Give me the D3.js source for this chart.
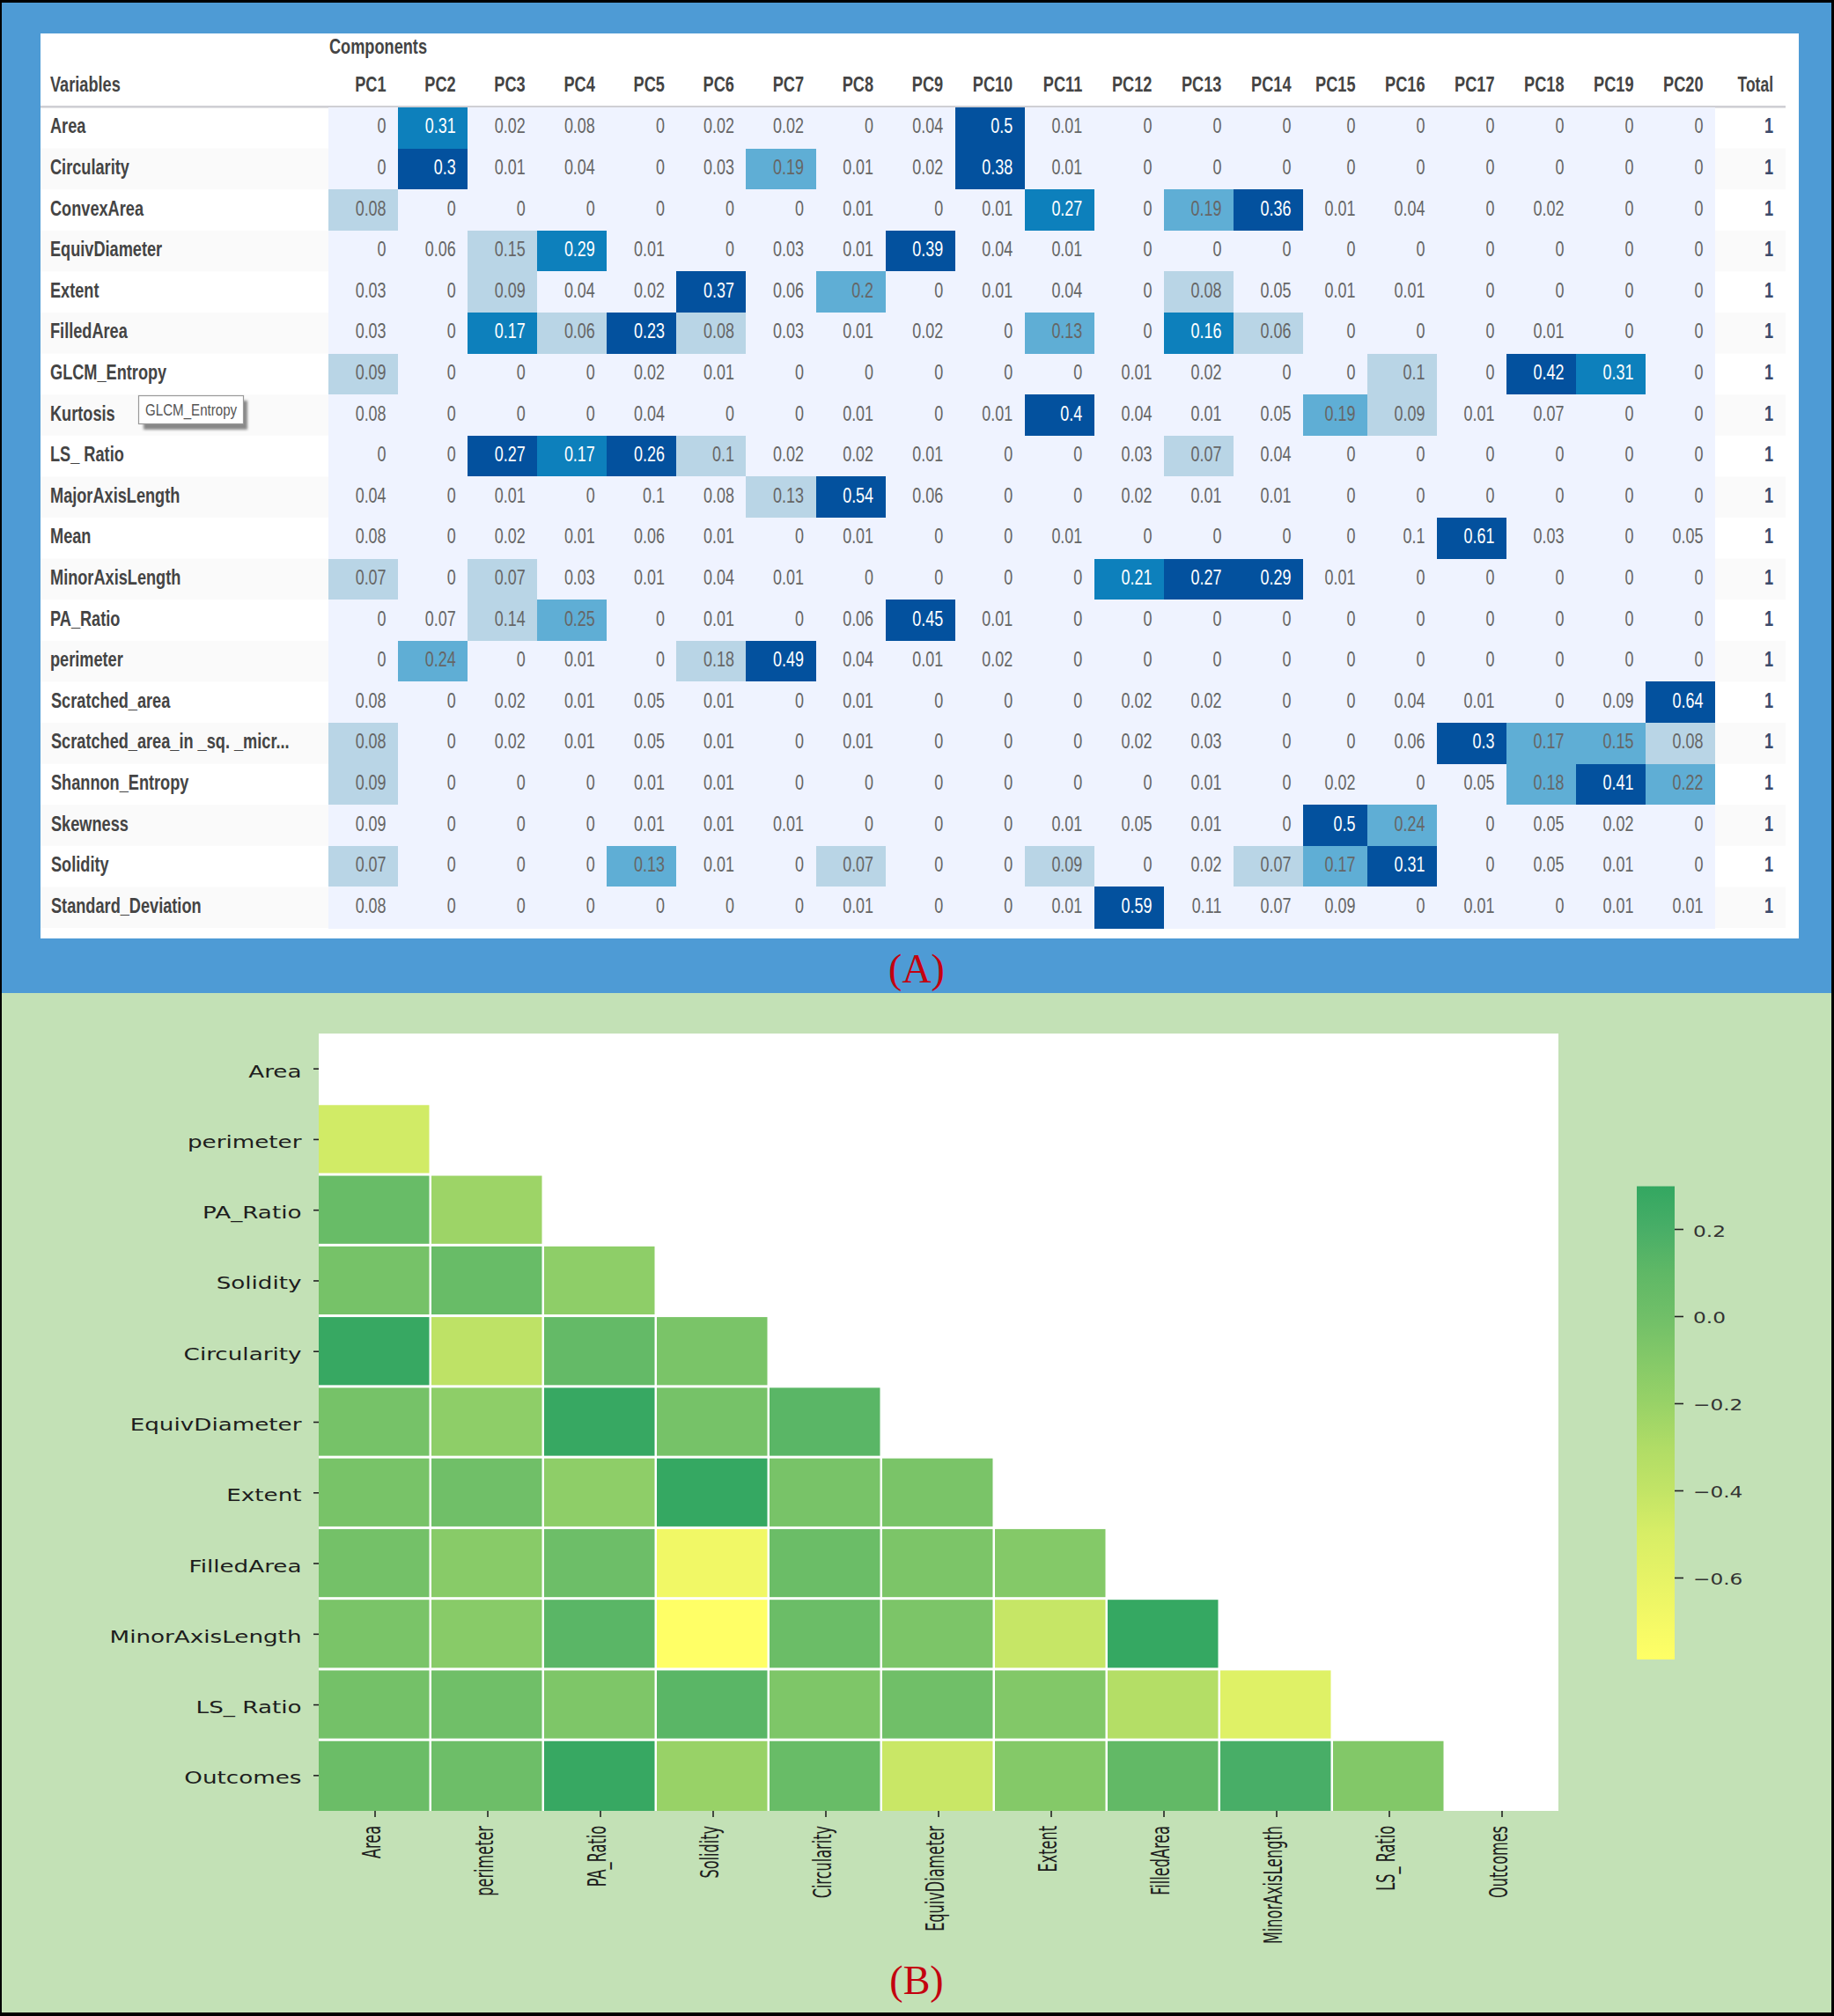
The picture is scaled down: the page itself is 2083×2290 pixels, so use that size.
<!DOCTYPE html>
<html><head><meta charset="utf-8">
<script src="https://cdn.jsdelivr.net/npm/d3@7"></script>
<style>html,body{margin:0;padding:0;background:#000}svg{display:block}</style>
</head><body><svg id="c" width="2083" height="2290"></svg>
<script>
const components=["PC1","PC2","PC3","PC4","PC5","PC6","PC7","PC8","PC9","PC10","PC11","PC12","PC13","PC14","PC15","PC16","PC17","PC18","PC19","PC20"];
const variables=["Area","Circularity","ConvexArea","EquivDiameter","Extent","FilledArea","GLCM_Entropy","Kurtosis","LS_ Ratio","MajorAxisLength","Mean","MinorAxisLength","PA_Ratio","perimeter","Scratched_area","Scratched_area_in _sq. _micr...","Shannon_Entropy","Skewness","Solidity","Standard_Deviation"];
const loadings=[
[0,.31,.02,.08,0,.02,.02,0,.04,.5,.01,0,0,0,0,0,0,0,0,0],
[0,.3,.01,.04,0,.03,.19,.01,.02,.38,.01,0,0,0,0,0,0,0,0,0],
[.08,0,0,0,0,0,0,.01,0,.01,.27,0,.19,.36,.01,.04,0,.02,0,0],
[0,.06,.15,.29,.01,0,.03,.01,.39,.04,.01,0,0,0,0,0,0,0,0,0],
[.03,0,.09,.04,.02,.37,.06,.2,0,.01,.04,0,.08,.05,.01,.01,0,0,0,0],
[.03,0,.17,.06,.23,.08,.03,.01,.02,0,.13,0,.16,.06,0,0,0,.01,0,0],
[.09,0,0,0,.02,.01,0,0,0,0,0,.01,.02,0,0,.1,0,.42,.31,0],
[.08,0,0,0,.04,0,0,.01,0,.01,.4,.04,.01,.05,.19,.09,.01,.07,0,0],
[0,0,.27,.17,.26,.1,.02,.02,.01,0,0,.03,.07,.04,0,0,0,0,0,0],
[.04,0,.01,0,.1,.08,.13,.54,.06,0,0,.02,.01,.01,0,0,0,0,0,0],
[.08,0,.02,.01,.06,.01,0,.01,0,0,.01,0,0,0,0,.1,.61,.03,0,.05],
[.07,0,.07,.03,.01,.04,.01,0,0,0,0,.21,.27,.29,.01,0,0,0,0,0],
[0,.07,.14,.25,0,.01,0,.06,.45,.01,0,0,0,0,0,0,0,0,0,0],
[0,.24,0,.01,0,.18,.49,.04,.01,.02,0,0,0,0,0,0,0,0,0,0],
[.08,0,.02,.01,.05,.01,0,.01,0,0,0,.02,.02,0,0,.04,.01,0,.09,.64],
[.08,0,.02,.01,.05,.01,0,.01,0,0,0,.02,.03,0,0,.06,.3,.17,.15,.08],
[.09,0,0,0,.01,.01,0,0,0,0,0,0,.01,0,.02,0,.05,.18,.41,.22],
[.09,0,0,0,.01,.01,.01,0,0,0,.01,.05,.01,0,.5,.24,0,.05,.02,0],
[.07,0,0,0,.13,.01,0,.07,0,0,.09,0,.02,.07,.17,.31,0,.05,.01,0],
[.08,0,0,0,0,0,0,.01,0,0,.01,.59,.11,.07,.09,0,.01,0,.01,.01]];
// shade class, one digit per PC
const shadeClasses=[
"03000000040000000000",
"04000020040000000000",
"10000000003024000000",
"00130000400000000000",
"00100402000010000000",
"00314100002031000000",
"10000000000000010430",
"00000000004000210000",
"00434100000010000000",
"00000014000000000000",
"00000000000000004000",
"10100000000344000000",
"00120000400000000000",
"02000140000000000000",
"00000000000000000004",
"10000000000000004221",
"10000000000000000242",
"00000000000000420000",
"10002001001001240000",
"00000000000400000000"];
const totals=variables.map(()=>1);
const shadeColors=["#eff3ff","#b9d5e6","#5faed5","#0d80bc","#03519e"];

const corrLabels=["Area","perimeter","PA_Ratio","Solidity","Circularity","EquivDiameter","Extent","FilledArea","MinorAxisLength","LS_ Ratio","Outcomes"];
const corrValues=[
[],
[-.47],
[.05,-.22],
[-.03,.05,-.15],
[.28,-.38,.07,-.05],
[-.03,-.15,.28,-.03,.12],
[-.04,.0,-.15,.29,-.04,-.05],
[-.02,-.12,.02,-.68,.03,-.06,-.1],
[-.05,-.12,.12,-.79,.03,-.06,-.42,.29],
[-.02,0,-.07,.12,-.07,0,-.09,-.32,-.55],
[.03,.02,.28,-.2,.05,-.43,-.1,.08,.2,-.09]];
const cbTicks=[.2,0,-.2,-.4,-.6];
const cmapValues=[-.79,-.7,-.6,-.5,-.4,-.3,-.2,-.1,0,.1,.2,.3];
const cmapColors=["#ffff66","#f4f966","#e6f366","#d8ee66","#c2e466","#b0dc66","#98d267","#84c968","#70bf68","#5fb866","#48ae67","#33a761"];

const svg=d3.select("#c");
const rect=(x,y,w,h,f)=>svg.append("rect").attr("x",x).attr("y",y).attr("width",w).attr("height",h).attr("fill",f);
rect(2,3,2078,1125,"#4e9bd5");
rect(2,1128,2078,1158,"#c3e1b6");
rect(46,38,1997,1028,"#fff");

const TF="'Liberation Sans',Arial,sans-serif";
function st(x,y,s,o={}){
  return svg.append("text").attr("transform",`translate(${x},${y}) scale(${o.sx||.79},${o.sy||1})`)
    .attr("text-anchor",o.a||"start").attr("font-family",o.f||TF).attr("font-size",o.fs||23)
    .attr("font-weight",o.w||"normal").attr("fill",o.c||"#444").text(s);
}
const x=d3.scaleLinear().domain([0,14,15,20]).range([373,1480,1553,1948]);
const y=d3.scaleBand().domain(variables).range([122,1054]);
variables.forEach((v,i)=>{ if(i%2){ rect(46,y(v),327,y.bandwidth(),"#fafafa"); rect(1948,y(v),80,y.bandwidth(),"#fafafa"); } });
rect(46,120,1982,2.6,"#cfcfd4");

variables.forEach((v,r)=>{
  const cy=y(v)+y.bandwidth()/2;
  st(r>=14?58:57,cy+6,v,{w:"bold"});
  components.forEach((c,k)=>{
    const cl=+shadeClasses[r][k];
    rect(x(k),y(v),x(k+1)-x(k),y.bandwidth()+.5,shadeColors[cl]).attr("shape-rendering","crispEdges");
  });
});
variables.forEach((v,r)=>{
  const cy=y(v)+y.bandwidth()/2;
  components.forEach((c,k)=>{
    const cl=+shadeClasses[r][k];
    st(x(k+1)-13.5,cy+6,String(loadings[r][k]).replace(/^\./,"0."),{a:"end",sx:.78,c:cl>=3?"#fff":"#666"});
  });
  st(2014,cy+6,totals[r],{a:"end",w:"bold",c:"#3b4a6b"});
});
st(374,61,"Components",{w:"bold"});
st(57,103.5,"Variables",{w:"bold"});
components.forEach((c,k)=>st(x(k+1)-13.5,104,c,{a:"end",w:"bold"}));
st(2014,103.5,"Total",{a:"end",w:"bold",sx:.76});

// tooltip
svg.append("defs").append("filter").attr("id","bl").append("feGaussianBlur").attr("stdDeviation",1.5);
rect(163,455,118,33,"#888").attr("filter","url(#bl)");
rect(157.5,449.5,119,32,"#fff").attr("stroke","#999").attr("stroke-width",1.2);
st(165,472,"GLCM_Entropy",{fs:18,sx:.84,c:"#555"});

// captions
const CAP={f:"'Liberation Serif','Times New Roman',serif",fs:46,sx:1,a:"middle",c:"#c4000f"};
st(1041,1116,"(A)",CAP);
st(1041,2265,"(B)",CAP);

// Heatmap B
const hx=d3.scaleBand().domain(corrLabels).range([362,1770]);
const hy=d3.scaleBand().domain(corrLabels).range([1174,2057]);
const color=d3.scaleLinear().domain(cmapValues).range(cmapColors);
rect(362,1174,1408,883,"#fff");
corrValues.forEach((row,r)=>row.forEach((v,k)=>{
  const last=r===corrValues.length-1;
  rect(hx(corrLabels[k]),hy(corrLabels[r])+1,hx.bandwidth()-2.5,hy.bandwidth()-(last?1:3),color(v));
}));
const DV="'DejaVu Sans',sans-serif";
const yax=svg.append("g").attr("transform","translate(362,0)").call(d3.axisLeft(hy).tickSize(6).tickPadding(0));
yax.select(".domain").remove();
yax.selectAll("line").attr("stroke","#222").attr("stroke-width",1.6);
yax.selectAll("text").attr("font-family",DV).attr("font-size",20).attr("fill","#1d1d1d").attr("dy",0).attr("x",0).attr("y",0)
  .attr("text-anchor","end").attr("transform","translate(-19.5,9.5) scale(1.31,1)");
const xax=svg.append("g").attr("transform","translate(0,2057)").call(d3.axisBottom(hx).tickSize(7).tickPadding(0));
xax.select(".domain").remove();
xax.selectAll("line").attr("stroke","#222").attr("stroke-width",1.6);
xax.selectAll("text").attr("font-family",DV).attr("font-size",20).attr("fill","#1d1d1d").attr("dy",0).attr("x",0).attr("y",0)
  .attr("text-anchor","end").attr("transform","translate(5.5,17) rotate(-90) scale(.806,1.42)");

// Colorbar
const cb=d3.scaleLinear().domain([.298,-.788]).range([1347.5,1885]);
const grad=svg.select("defs").append("linearGradient").attr("id","cbg").attr("x1",0).attr("x2",0).attr("y1",0).attr("y2",1);
cmapValues.slice().reverse().forEach(v=>grad.append("stop").attr("offset",Math.max(0,Math.min(1,(cb(v)-1347.5)/(1885-1347.5)))).attr("stop-color",color(v)));
rect(1859,1347.5,43,537.5,"url(#cbg)");
const cax=svg.append("g").attr("transform","translate(1902,0)").call(d3.axisRight(cb).tickValues(cbTicks).tickFormat(d=>d3.format(".1f")(d).replace("-","\u2212").replace("\u22120.0","0.0")).tickSize(10).tickPadding(0));
cax.select(".domain").remove();
cax.selectAll("line").attr("stroke","#222").attr("stroke-width",1.6);
cax.selectAll("text").attr("font-family",DV).attr("font-size",18).attr("fill","#333").attr("dy",0).attr("x",0).attr("y",0)
  .attr("text-anchor","start").attr("transform","translate(21,8) scale(1.29,1)");
</script></body></html>
